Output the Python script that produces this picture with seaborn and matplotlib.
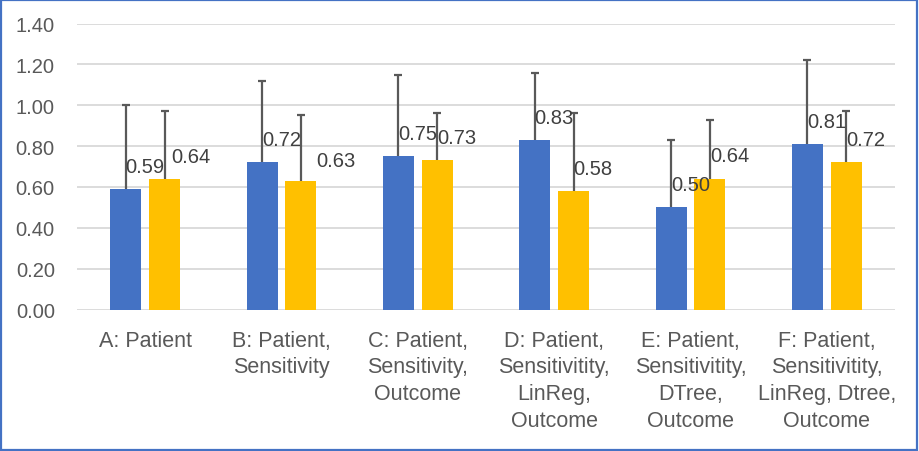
import matplotlib
matplotlib.use("Agg")
import matplotlib.pyplot as plt
from matplotlib.patches import Rectangle
from matplotlib.container import BarContainer
import numpy as np
import pandas as pd
import seaborn as sns

# ---- data ----
categories = [
    "A: Patient",
    "B: Patient,\nSensitivity",
    "C: Patient,\nSensitivity,\nOutcome",
    "D: Patient,\nSensitivitity,\nLinReg,\nOutcome",
    "E: Patient,\nSensitivitity,\nDTree,\nOutcome",
    "F: Patient,\nSensitivitity,\nLinReg, Dtree,\nOutcome",
]
series_names = ["Series 1", "Series 2"]
blue_values = [0.59, 0.72, 0.75, 0.83, 0.50, 0.81]
orange_values = [0.64, 0.63, 0.73, 0.58, 0.64, 0.72]
blue_err = [0.41, 0.40, 0.40, 0.33, 0.33, 0.41]
orange_err = [0.33, 0.32, 0.23, 0.38, 0.29, 0.25]
y_ticks = [0.0, 0.2, 0.4, 0.6, 0.8, 1.0, 1.2, 1.4]

# ---- style ----
BLUE = "#4472C4"
ORANGE = "#FFC000"
GRID = "#D9D9D9"
TICK = "#595959"
LABEL = "#404040"
ERR = "#595959"

sns.set_theme(style="white")
plt.rcParams["font.family"] = ["Liberation Sans", "DejaVu Sans"]

df = pd.DataFrame({
    "category": categories * 2,
    "series": [series_names[0]] * len(categories) + [series_names[1]] * len(categories),
    "value": blue_values + orange_values,
})

fig = plt.figure(figsize=(9.19, 4.52), dpi=100)
ax = fig.add_axes([77 / 919, 1 - 310.5 / 452, (895 - 77) / 919, (310.5 - 24.5) / 452])

sns.barplot(data=df, x="category", y="value", hue="series",
            palette=[BLUE, ORANGE], width=0.572, gap=0.205,
            errorbar=None, legend=False, saturation=1, linewidth=0,
            ax=ax, zorder=2)

ax.set_ylim(0, 1.4)
ax.set_xlim(-0.5, len(categories) - 0.5)
ax.set_yticks(y_ticks)
ax.set_yticklabels([f"{t:.2f}" for t in y_ticks])
ax.yaxis.grid(True, color=GRID, linewidth=1.3, zorder=0)
ax.set_axisbelow(True)
for s in ax.spines.values():
    s.set_visible(False)
ax.tick_params(axis="y", length=0, pad=16, labelsize=14.5, labelcolor=TICK)
ax.tick_params(axis="x", length=0, pad=14.5, labelsize=15.5, labelcolor=TICK)
for lbl in ax.get_xticklabels():
    lbl.set_linespacing(1.36)
ax.set_xlabel("")
ax.set_ylabel("")

# label offsets (points) per series/category: (dx, dy)
default_off = (0.0, 16.5)
special_off = {(1, 0): (5.0, 16.0), (1, 1): (10.8, 14.5)}

errs = [blue_err, orange_err]
vals = [blue_values, orange_values]
bar_conts = [c for c in ax.containers if isinstance(c, BarContainer)]
for si, cont in enumerate(bar_conts):
    xs = [p.get_x() + p.get_width() / 2 for p in cont.patches]
    eb = ax.errorbar(xs, vals[si], yerr=[np.zeros(len(xs)), errs[si]], fmt="none",
                     ecolor=ERR, elinewidth=1.6, capsize=2.7, capthick=1.6, zorder=3)
    # keep only the upper caps
    eb[1][0].remove()
    for ci, (x, v) in enumerate(zip(xs, vals[si])):
        dx, dy = special_off.get((si, ci), default_off)
        ax.annotate(f"{v:.2f}", xy=(x, v), xytext=(dx, dy), textcoords="offset points",
                    ha="left", va="center", fontsize=14.5, color=LABEL, zorder=4)

fig.patches.append(Rectangle((0.0015, 0.002), 0.996, 0.995, transform=fig.transFigure,
                             fill=False, edgecolor=BLUE, linewidth=1.6))

fig.savefig("out.png", dpi=100)
